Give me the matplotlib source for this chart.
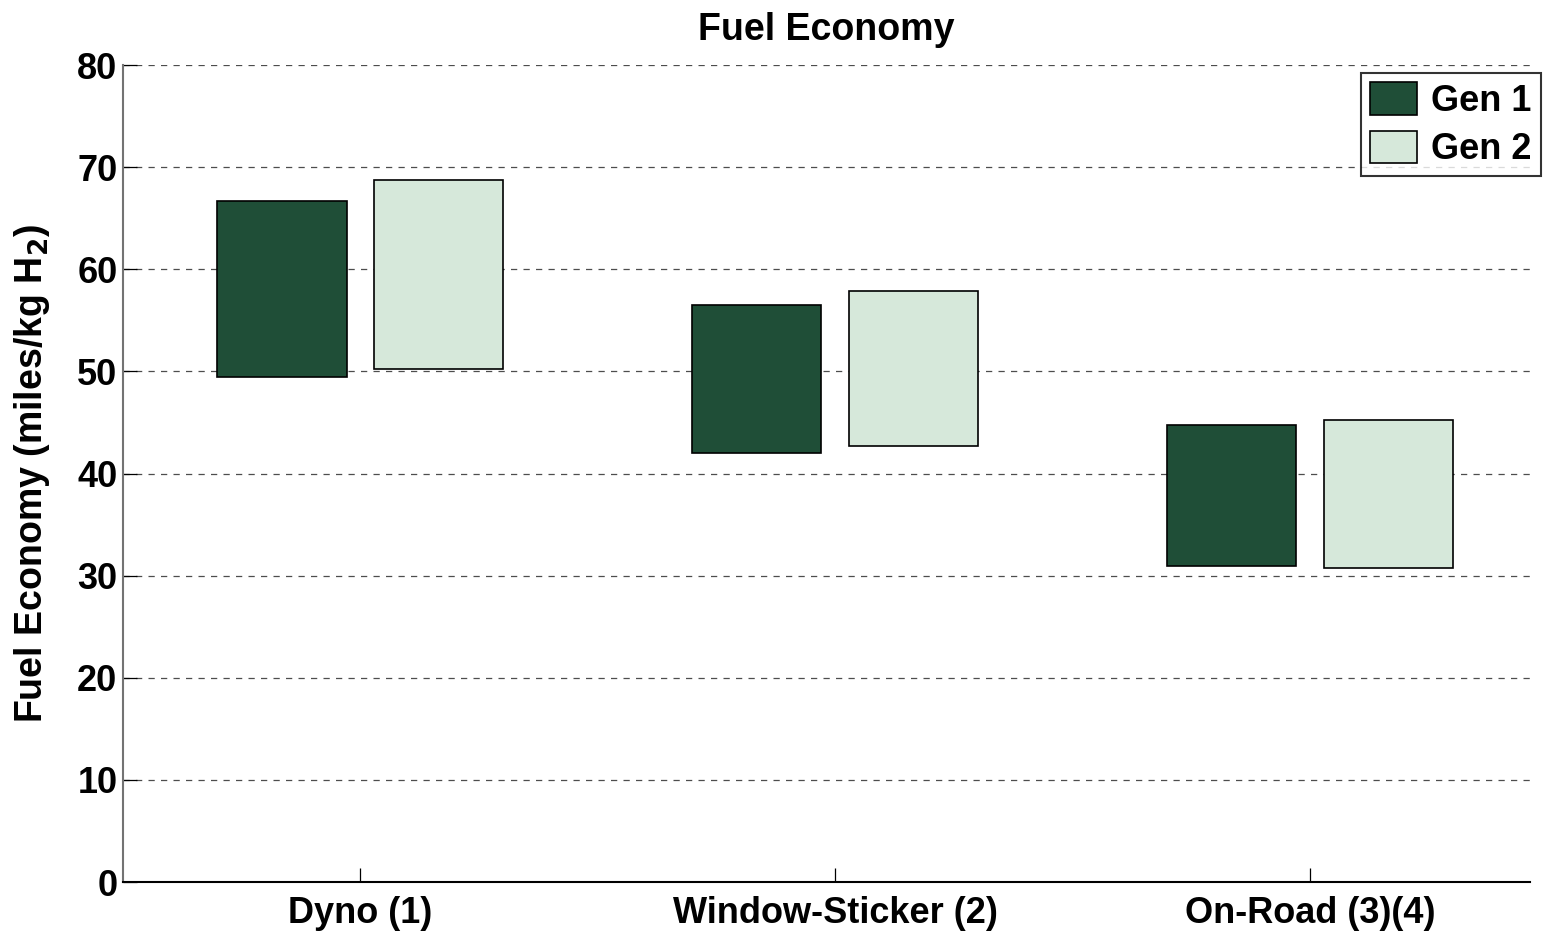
import numpy as np
import matplotlib
matplotlib.use("Agg")
import matplotlib.pyplot as plt

# диапазоны экономии топлива (миль/кг H2), низ и верх каждого столбика
categories = ["Dyno (1)", "Window-Sticker (2)", "On-Road (3)(4)"]
gen1_low = [49.5, 42.0, 30.9]
gen1_high = [66.7, 56.5, 44.8]
gen2_low = [50.2, 42.7, 30.8]
gen2_high = [68.7, 57.9, 45.2]
yticks = [0, 10, 20, 30, 40, 50, 60, 70, 80]

plt.rcParams["font.family"] = ["Liberation Sans", "DejaVu Sans"]
plt.rcParams["font.weight"] = "bold"

fig = plt.figure(figsize=(15.45, 9.31), dpi=100)
ax = fig.add_axes([0.0796, 0.0526, 0.9104, 0.8775])

x = np.arange(1, len(categories) + 1)
w, off = 0.272, 0.165
ax.bar(x - off, np.subtract(gen1_high, gen1_low), w, bottom=gen1_low,
       color="#1f4e37", edgecolor="black", linewidth=1.2, label="Gen 1", zorder=3)
ax.bar(x + off, np.subtract(gen2_high, gen2_low), w, bottom=gen2_low,
       color="#d6e8da", edgecolor="black", linewidth=1.2, label="Gen 2", zorder=3)

ax.set_xlim(0.5, 3.463)
ax.set_ylim(0, 80)
ax.set_yticks(yticks)
ax.set_xticks(x)
ax.set_xticklabels(categories)
ax.yaxis.grid(True, linestyle=(0, (5, 5)), color="0.3", linewidth=0.9)
ax.set_axisbelow(True)
ax.tick_params(axis="both", direction="in", length=10, width=0.9, labelsize=26, pad=10)
ax.tick_params(axis="y", pad=4)
for s in ["top", "right"]:
    ax.spines[s].set_visible(False)
ax.spines["left"].set_color("0.45")
ax.spines["left"].set_linewidth(1.5)
ax.spines["bottom"].set_linewidth(1.5)

ax.set_ylabel("Fuel Economy (miles/kg H$_\\mathbf{2}$)", fontsize=27, fontweight="bold", labelpad=18)
ax.set_title("Fuel Economy", fontsize=27, fontweight="bold", pad=18)
leg = ax.legend(loc="upper right", bbox_to_anchor=(1.008, 0.99), fontsize=26, frameon=True,
                fancybox=False, edgecolor="black", handlelength=1.3, handleheight=1.0,
                borderaxespad=0, labelspacing=0.33, borderpad=0.25, handletextpad=0.4)
leg.get_frame().set_linewidth(1.5)

fig.savefig("out.png", dpi=100)
